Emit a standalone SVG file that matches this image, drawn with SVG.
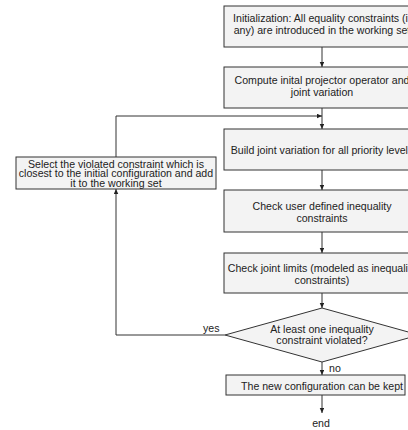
<svg xmlns="http://www.w3.org/2000/svg" width="408" height="430" viewBox="0 0 408 430">
<defs>
<marker id="ah" markerWidth="6" markerHeight="5" refX="5" refY="2.25" orient="auto" markerUnits="userSpaceOnUse">
<path d="M0,0 L5,2.25 L0,4.5 z" fill="#222"/>
</marker>
<style>
.box{fill:#f3f3f3;stroke:#333;stroke-width:1}
.t{font-family:"Liberation Sans",Arial,sans-serif;font-size:10.6px;fill:#222;text-anchor:middle}
.l{font-family:"Liberation Sans",Arial,sans-serif;font-size:10.6px;fill:#222}
.c{fill:none;stroke:#333;stroke-width:1}
.a{marker-end:url(#ah)}
</style>
</defs>
<rect width="408" height="430" fill="#ffffff"/>
<g id="connectors">
<line class="c a" x1="322" y1="47" x2="322" y2="67"/>
<line class="c a" x1="322" y1="108" x2="322" y2="129"/>
<line class="c a" x1="322" y1="170" x2="322" y2="190"/>
<line class="c a" x1="322" y1="232" x2="322" y2="253"/>
<line class="c a" x1="322" y1="293" x2="322" y2="308"/>
<line class="c a" x1="322" y1="362" x2="322" y2="375"/>
<line class="c a" x1="322" y1="395" x2="322" y2="413"/>
<polyline class="c a" points="225,335 116,335 116,189"/>
<polyline class="c a" points="116,157 116,116 322,116"/>
<text class="l" x="203" y="332">yes</text>
<text class="l" x="329" y="372">no</text>
<text class="t" x="321" y="427">end</text>
</g>
<g id="n1">
<rect class="box" x="224" y="6" width="196" height="41"/>
<text class="t" x="322" y="22">Initialization: All equality constraints (if</text>
<text class="t" x="322" y="34">any) are introduced in the working set</text>
</g>
<g id="n2">
<rect class="box" x="224" y="67" width="196" height="41"/>
<text class="t" x="322" y="84">Compute inital projector operator and</text>
<text class="t" x="322" y="95.5">joint variation</text>
</g>
<g id="n3">
<rect class="box" x="224" y="129" width="196" height="41"/>
<text class="t" x="322" y="153.5">Build joint variation for all priority levels</text>
</g>
<g id="n4">
<rect class="box" x="224" y="190" width="196" height="42"/>
<text class="t" x="322" y="209.5">Check user defined inequality</text>
<text class="t" x="322" y="221.5">constraints</text>
</g>
<g id="n5">
<rect class="box" x="224" y="253" width="196" height="40"/>
<text class="t" x="322" y="272">Check joint limits (modeled as inequality</text>
<text class="t" x="322" y="283.7">constraints)</text>
</g>
<g id="n6">
<polygon class="box" points="322,308 419,335 322,362 225,335"/>
<text class="t" x="322" y="333">At least one inequality</text>
<text class="t" x="322" y="343.7">constraint violated?</text>
</g>
<g id="n7">
<rect class="box" x="226" y="375" width="179" height="20"/>
<text class="t" x="322" y="389.5">The new configuration can be kept</text>
</g>
<g id="n8">
<rect class="box" x="16" y="157" width="200" height="32"/>
<text class="t" x="116" y="167.5">Select the violated constraint which is</text>
<text class="t" x="116" y="177">closest to the initial configuration and add</text>
<text class="t" x="116" y="186.5">it to the working set</text>
</g>
</svg>
